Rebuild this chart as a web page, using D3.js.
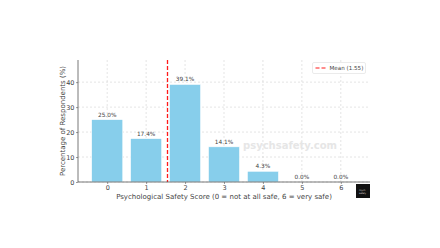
<!DOCTYPE html>
<html>
<head>
<meta charset="utf-8">
<script src="https://cdn.jsdelivr.net/npm/d3@7"></script>
<style>
body { margin: 0; background: #fff; }
svg { display: block; font-family: "DejaVu Sans", sans-serif; }
</style>
</head>
<body>
<svg id="chart" width="440" height="248"></svg>
<script>
var scores = [0, 1, 2, 3, 4, 5, 6]
var percents = [25.0, 17.4, 39.1, 14.1, 4.3, 0.0, 0.0]
var yTicks = [0, 10, 20, 30, 40]
var meanScore = 1.55

var svg = d3.select('#chart')
var plotL = 78, plotR = 370, plotT = 60, plotB = 182

var x = d3.scaleLinear().domain([-0.75, 6.75]).range([plotL, plotR])
var y = d3.scaleLinear().domain([0, 39.1 * 1.25]).range([plotB, plotT])
var bw = x(0.4) - x(-0.4)

// grid
svg.append('g').selectAll('line')
	.data(scores).enter().append('line')
	.attr('x1', function(d){ return x(d) }).attr('x2', function(d){ return x(d) })
	.attr('y1', plotT).attr('y2', plotB)
	.style('stroke', '#c8c8c8').style('stroke-width', 0.5)
	.style('stroke-dasharray', '2,2')
svg.append('g').selectAll('line')
	.data(yTicks).enter().append('line')
	.attr('x1', plotL).attr('x2', plotR)
	.attr('y1', function(d){ return y(d) }).attr('y2', function(d){ return y(d) })
	.style('stroke', '#c8c8c8').style('stroke-width', 0.5)
	.style('stroke-dasharray', '2,2')

// watermark
svg.append('text')
	.attr('x', 290).attr('y', 148.5)
	.attr('text-anchor', 'middle')
	.style('font-size', '10px').style('font-weight', 'bold')
	.style('fill', '#e6e6e6')
	.text('psychsafety.com')

// bars
svg.append('g').selectAll('rect')
	.data(percents).enter().append('rect')
	.attr('x', function(d, i){ return x(scores[i]) - bw / 2 })
	.attr('width', bw)
	.attr('y', function(d){ return y(d) })
	.attr('height', function(d){ return plotB - y(d) })
	.style('fill', '#87ceeb')
	.style('stroke', '#fff').style('stroke-width', 0.6)

// bar labels
svg.append('g').selectAll('text')
	.data(percents).enter().append('text')
	.attr('x', function(d, i){ return x(scores[i]) })
	.attr('y', function(d){ return y(d) - 3 })
	.attr('text-anchor', 'middle')
	.style('font-size', '5.8px').style('fill', '#444')
	.text(function(d){ return d.toFixed(1) + '%' })

// mean line
var mx = Math.round(x(meanScore)) - 0.5
svg.append('line')
	.attr('x1', mx).attr('x2', mx)
	.attr('y1', plotT).attr('y2', plotB)
	.style('stroke', '#ff1a1a').style('stroke-width', 1.3)
	.style('stroke-dasharray', '4,2')

// axes
var xAxis = d3.axisBottom(x).tickValues(scores).tickFormat(d3.format('d')).tickSize(2).tickPadding(1.5)
var gx = svg.append('g').attr('transform', 'translate(0,' + plotB + ')').call(xAxis)
var yAxis = d3.axisLeft(y).tickValues(yTicks).tickSize(2).tickPadding(1.5)
var gy = svg.append('g').attr('transform', 'translate(' + plotL + ',0)').call(yAxis)
;[gx, gy].forEach(function(g){
	g.select('.domain').style('stroke', '#555').style('stroke-width', 0.8)
	g.selectAll('.tick line').style('stroke', '#555').style('stroke-width', 0.6)
	g.selectAll('.tick text').style('font-size', '6.5px').style('fill', '#444')
		.style('font-family', '"DejaVu Sans", sans-serif')
})
gy.select('.domain').attr('d', 'M0,' + plotB + 'V' + plotT)
gx.select('.domain').attr('d', 'M' + plotL + ',0H' + plotR)

// axis titles
svg.append('text')
	.attr('x', (plotL + plotR) / 2).attr('y', 198.5)
	.attr('text-anchor', 'middle')
	.style('font-size', '7px').style('fill', '#444')
	.text('Psychological Safety Score (0 = not at all safe, 6 = very safe)')
svg.append('text')
	.attr('transform', 'translate(65,' + (plotT + plotB) / 2 + ') rotate(-90)')
	.attr('text-anchor', 'middle')
	.style('font-size', '7px').style('fill', '#444')
	.text('Percentage of Respondents (%)')

// legend
var lg = svg.append('g').attr('transform', 'translate(312.5,62.5)')
lg.append('rect').attr('width', 53).attr('height', 11).attr('rx', 1.5)
	.style('fill', '#fff').style('stroke', '#ddd').style('stroke-width', 0.6)
lg.append('line').attr('x1', 3).attr('x2', 13).attr('y1', 5.5).attr('y2', 5.5)
	.style('stroke', '#ff1a1a').style('stroke-width', 1.2).style('stroke-dasharray', '4,2')
lg.append('text').attr('x', 17).attr('y', 7.6)
	.style('font-size', '5.6px').style('fill', '#444')
	.text('Mean (1.55)')

// logo
var logo = svg.append('g').attr('transform', 'translate(356,184)')
logo.append('rect').attr('width', 14).attr('height', 14).style('fill', '#111')
logo.append('text').attr('x', 3).attr('y', 7).style('font-size', '2.2px').style('fill', '#ddd').text('Psych')
logo.append('text').attr('x', 3).attr('y', 9.5).style('font-size', '2.2px').style('fill', '#ddd').text('Safety')
</script>
</body>
</html>
